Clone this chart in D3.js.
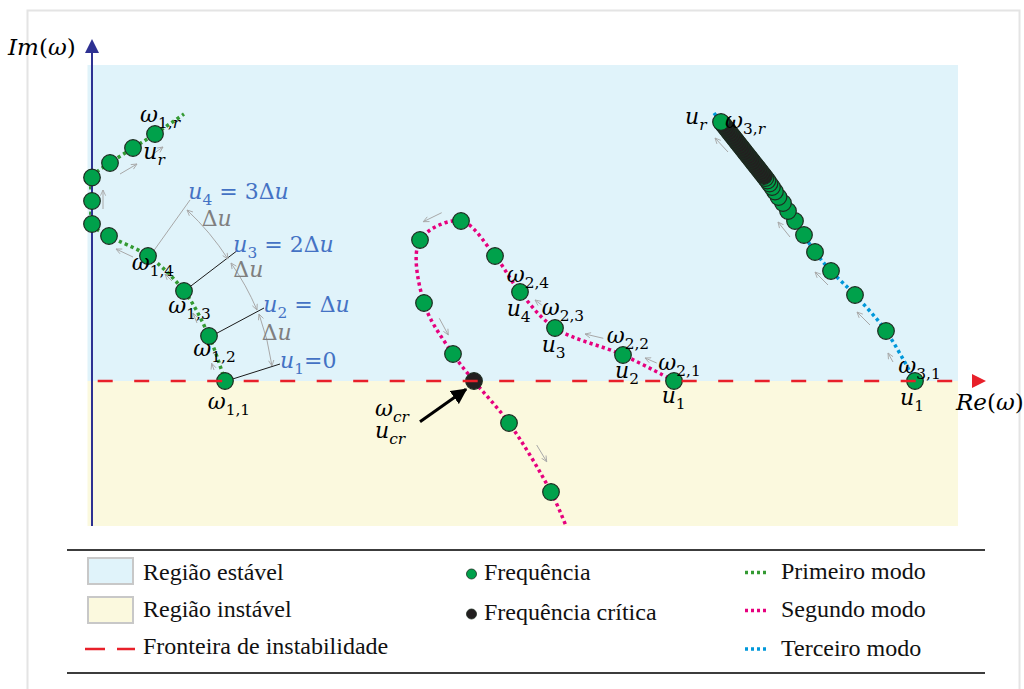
<!DOCTYPE html>
<html><head><meta charset="utf-8">
<script src="https://cdn.jsdelivr.net/npm/d3@7"></script>
<style>body{margin:0;background:#fff}svg{display:block}</style>
</head><body>
<svg id="c" width="1024" height="689"></svg>
<script>
// ---------- DATA (Re, Im in chart units) ----------
const regionRe = [-0.45, 86.6];
const stableIm = [0, 31.6];
const unstableIm = [-14.5, 0];

const mode1Re = [13.3, 11.7, 9.2, 5.6, 1.7, 0, 0, 0, 1.8, 4.1, 6.3];
const mode1Im = [0, 4.5, 9.0, 12.5, 14.5, 15.7, 18.0, 20.35, 21.8, 23.3, 24.7];
const mode1TailRe = [9.2];
const mode1TailIm = [26.7];

const mode2Re = [58.2, 53.1, 46.3, 42.8, 40.3, 36.9, 32.8, 33.2, 36.1, 38.2, 41.7, 45.9];
const mode2Im = [0, 2.6, 5.3, 8.9, 12.5, 16.0, 14.1, 7.8, 2.7, 0, -4.2, -11.1];
const mode2Critical = [9];
const mode2TailRe = [47.4];
const mode2TailIm = [-14.5];

const mode3Re = [82.3, 79.4, 76.3, 73.9, 72.3, 71.2, 70.3, 69.6, 69.1, 68.65, 68.3, 68.0, 67.75, 67.55, 67.35];
const mode3Im = [0, 5.0, 8.6, 11.0, 12.9, 14.6, 16.0, 17.0, 17.8, 18.4, 18.95, 19.4, 19.75, 20.05, 20.3];
const mode3DenseRe = [67.20, 67.04, 66.88, 66.73, 66.57, 66.41, 66.25, 66.09, 65.94, 65.78, 65.62, 65.46, 65.30, 65.15, 64.99, 64.83, 64.67, 64.51, 64.36, 64.20, 64.04, 63.88, 63.72, 63.57, 63.41, 63.25, 63.09];
const mode3DenseIm = [20.5, 20.7, 20.9, 21.1, 21.3, 21.5, 21.7, 21.9, 22.1, 22.3, 22.5, 22.7, 22.9, 23.1, 23.3, 23.5, 23.7, 23.9, 24.1, 24.3, 24.5, 24.7, 24.9, 25.1, 25.3, 25.5, 25.7];
const mode3LastRe = [62.9];
const mode3LastIm = [25.9];
const mode3TailRe = [62.2];
const mode3TailIm = [26.8];

// direction arrows [re0, im0, re1, im1]
const flowArrows = [
  [2.8,20.7,4.5,21.7],[6.1,22.7,7.1,23.4],[1.1,17.2,1.1,19.1],[4.1,12.4,2.4,13.2],
  [8.0,10.0,7.3,10.7],[10.5,5.8,10.1,6.8],[12.2,1.1,11.97,1.77],
  [34.97,16.83,33.13,15.93],[34.73,6.27,35.63,4.6],[51.13,4.27,49.3,4.7],
  [44.97,7.6,44.3,8.1],[56.47,1.8,55.3,2.3],[44.47,-6.4,45.47,-8.07],
  [63.6,22.9,62.3,24.3],[69.8,14.4,68.6,15.9],[73.6,9.6,72.3,10.9],
  [77.8,5.6,76.5,6.9],[80.1,1.9,79.6,2.8]
];
// leader lines from mode 1 points to u labels
const leaderBlack = [[13.97,0.17,18.8,1.7],[12.47,4.77,17.2,7.3],[9.8,9.43,14.47,13.0]];
const leaderGray = [[6.23,13.1,9.8,18.1]];
// Δu arc segments (radius in chart units)
const arcRadius = 26;
const arcSegs = [[9.5,17.1,13.6,12.2],[13.9,11.8,16.5,7.1],[16.7,6.7,18.0,1.5]];
const critArrow = [32.8,-4.07,37.4,-0.83];

// labels: parts [text, kind] kind: i italic, n normal, s subscript, si subscript italic
const labels = [
  {re:11.57, im:-2.8, parts:[['ω','i'],['1,1','s']]},
  {re:10.13, im:2.5, parts:[['ω','i'],['1,2','s']]},
  {re:7.63, im:6.8, parts:[['ω','i'],['1,3','s']]},
  {re:3.97, im:11.1, parts:[['ω','i'],['1,4','s']]},
  {re:4.8, im:25.95, parts:[['ω','i'],['1,','s'],['r','si']]},
  {re:5.13, im:22.2, parts:[['u','i'],['r','si']]},
  {re:41.47, im:9.9, parts:[['ω','i'],['2,4','s']]},
  {re:41.47, im:6.5, parts:[['u','i'],['4','s']]},
  {re:44.97, im:6.6, parts:[['ω','i'],['2,3','s']]},
  {re:44.97, im:2.93, parts:[['u','i'],['3','s']]},
  {re:51.47, im:3.8, parts:[['ω','i'],['2,2','s']]},
  {re:52.3, im:0.3, parts:[['u','i'],['2','s']]},
  {re:56.63, im:1.1, parts:[['ω','i'],['2,1','s']]},
  {re:56.97, im:-2.2, parts:[['u','i'],['1','s']]},
  {re:28.3, im:-3.5, parts:[['ω','i'],['cr','si']]},
  {re:28.3, im:-5.7, parts:[['u','i'],['cr','si']]},
  {re:59.3, im:25.7, parts:[['u','i'],['r','si']]},
  {re:63.3, im:25.3, parts:[['ω','i'],['3,','s'],['r','si']]},
  {re:80.63, im:0.8, parts:[['ω','i'],['3,1','s']]},
  {re:80.8, im:-2.4, parts:[['u','i'],['1','s']]},
  {re:9.63, im:18.2, color:'#4472c4', parts:[['u','i'],['4','s'],[' = 3Δ','n'],['u','i']]},
  {re:14.13, im:12.95, color:'#4472c4', parts:[['u','i'],['3','s'],[' = 2Δ','n'],['u','i']]},
  {re:17.13, im:6.95, color:'#4472c4', parts:[['u','i'],['2','s'],[' = Δ','n'],['u','i']]},
  {re:18.8, im:1.3, color:'#4472c4', parts:[['u','i'],['1','s'],['=0','n']]},
  {re:10.97, im:15.5, color:'#7f7f7f', parts:[['Δ','n'],['u','i']]},
  {re:14.13, im:10.4, color:'#7f7f7f', parts:[['Δ','n'],['u','i']]},
  {re:16.97, im:4.1, color:'#7f7f7f', parts:[['Δ','n'],['u','i']]}
];

const legendRegions = ['Região estável','Região instável'];
const legendBoundary = 'Fronteira de instabilidade';
const legendPoints = ['Frequência','Frequência crítica'];
const legendModes = ['Primeiro modo','Segundo modo','Terceiro modo'];

// ---------- STYLE ----------
const C = {
  stable:'#e0f3fa', unstable:'#fbf9de', axis:'#2e3192', red:'#e8202a',
  m1:'#349a33', m2:'#e6007e', m3:'#0098da', pt:'#00a14b', ptStroke:'#1d2b20',
  crit:'#231f20', gray:'#a8a8a8'
};
const modeColors = [C.m1, C.m2, C.m3];
const MATH = "'DejaVu Serif', serif";
const SERIF = "'Liberation Serif','Times New Roman',serif";

const svg = d3.select('#c');
const x = d3.scaleLinear().domain([0, 86.6]).range([92, 958]);
const y = d3.scaleLinear().domain([0, 31.6]).range([381, 65]);
const pxPerUnit = x(1) - x(0);

// frame
svg.append('rect').attr('x',27.5).attr('y',10.5).attr('width',992).attr('height',700)
  .attr('fill','none').attr('stroke','#e4e4e4').attr('stroke-width',2);

// defs
const defs = svg.append('defs');
defs.append('marker').attr('id','ga').attr('viewBox','0 0 8 8').attr('refX',7).attr('refY',4)
  .attr('markerWidth',7).attr('markerHeight',7).attr('markerUnits','userSpaceOnUse').attr('orient','auto-start-reverse')
  .append('path').attr('d','M0.5,1 L7,4 L0.5,7').attr('fill','none').attr('stroke',C.gray).attr('stroke-width',1);
defs.append('marker').attr('id','ba').attr('viewBox','0 0 10 10').attr('refX',9).attr('refY',5)
  .attr('markerWidth',16).attr('markerHeight',16).attr('markerUnits','userSpaceOnUse').attr('orient','auto')
  .append('path').attr('d','M0,0 L10,5 L0,10 Z').attr('fill','#000');

// regions
svg.append('rect').attr('x',x(regionRe[0])).attr('y',y(stableIm[1]))
  .attr('width',x(regionRe[1])-x(regionRe[0])).attr('height',y(stableIm[0])-y(stableIm[1])).attr('fill',C.stable);
svg.append('rect').attr('x',x(regionRe[0])).attr('y',y(unstableIm[1]))
  .attr('width',x(regionRe[1])-x(regionRe[0])).attr('height',y(unstableIm[0])-y(unstableIm[1])).attr('fill',C.unstable);

// mode paths
const zip = (a,b) => a.map((v,i)=>[v,b[i]]);
const line = d3.line().x(d=>x(d[0])).y(d=>y(d[1])).curve(d3.curveCatmullRom.alpha(0.5));
const paths = [
  zip(mode1Re.concat(mode1TailRe), mode1Im.concat(mode1TailIm)),
  zip(mode2Re.concat(mode2TailRe), mode2Im.concat(mode2TailIm)),
  zip(mode3Re.concat(mode3DenseRe, mode3LastRe, mode3TailRe), mode3Im.concat(mode3DenseIm, mode3LastIm, mode3TailIm))
];
paths.forEach((p,i)=>{
  svg.append('path').attr('d',line(p)).attr('fill','none').attr('stroke',modeColors[i])
    .attr('stroke-width',3.5).attr('stroke-dasharray','3.2,3.2');
});

// flow arrows
svg.append('g').selectAll('line').data(flowArrows).join('line')
  .attr('x1',d=>x(d[0])).attr('y1',d=>y(d[1])).attr('x2',d=>x(d[2])).attr('y2',d=>y(d[3]))
  .attr('stroke',C.gray).attr('stroke-width',1).attr('marker-end','url(#ga)');

// leaders
svg.append('g').selectAll('line').data(leaderBlack).join('line')
  .attr('x1',d=>x(d[0])).attr('y1',d=>y(d[1])).attr('x2',d=>x(d[2])).attr('y2',d=>y(d[3]))
  .attr('stroke','#1a1a1a').attr('stroke-width',1);
svg.append('g').selectAll('line').data(leaderGray).join('line')
  .attr('x1',d=>x(d[0])).attr('y1',d=>y(d[1])).attr('x2',d=>x(d[2])).attr('y2',d=>y(d[3]))
  .attr('stroke',C.gray).attr('stroke-width',1);
// arcs
const rPx = arcRadius*pxPerUnit;
svg.append('g').selectAll('path').data(arcSegs).join('path')
  .attr('d',d=>`M${x(d[0])},${y(d[1])} A${rPx},${rPx} 0 0 1 ${x(d[2])},${y(d[3])}`)
  .attr('fill','none').attr('stroke',C.gray).attr('stroke-width',1)
  .attr('marker-start','url(#ga)').attr('marker-end','url(#ga)');

// y axis
svg.append('line').attr('x1',x(0)).attr('x2',x(0)).attr('y1',y(unstableIm[0])).attr('y2',50)
  .attr('stroke',C.axis).attr('stroke-width',2);
svg.append('path').attr('d',`M${x(0)-7},53 L${x(0)+7},53 L${x(0)},39 Z`).attr('fill',C.axis);

// points
const pts = svg.append('g');
function dots(re, im, fill){
  pts.selectAll(null).data(zip(re,im)).join('circle')
    .attr('cx',d=>x(d[0])).attr('cy',d=>y(d[1])).attr('r',8.3)
    .attr('fill',fill).attr('stroke',C.ptStroke).attr('stroke-width',1.2);
}
dots(mode1Re, mode1Im, C.pt);
dots(mode2Re.filter((v,i)=>!mode2Critical.includes(i)), mode2Im.filter((v,i)=>!mode2Critical.includes(i)), C.pt);
dots(mode2Critical.map(i=>mode2Re[i]), mode2Critical.map(i=>mode2Im[i]), C.crit);
dots(mode3Re, mode3Im, C.pt);
dots(mode3DenseRe, mode3DenseIm, C.crit);
dots(mode3LastRe, mode3LastIm, C.pt);

// x axis (instability boundary)
svg.append('line').attr('x1',97.7).attr('x2',x(regionRe[1])).attr('y1',y(0)).attr('y2',y(0))
  .attr('stroke',C.red).attr('stroke-width',2.5).attr('stroke-dasharray','15,21.5');
svg.append('path').attr('d',`M972,${y(0)-7} L986,${y(0)} L972,${y(0)+7} Z`).attr('fill',C.red);

// critical arrow
svg.append('line').attr('x1',x(critArrow[0])).attr('y1',y(critArrow[1])).attr('x2',x(critArrow[2])).attr('y2',y(critArrow[3]))
  .attr('stroke','#000').attr('stroke-width',3).attr('marker-end','url(#ba)');

// labels
function mathLabel(px, py, parts, color, size){
  size = size || 22;
  const dsub = Math.round(size*0.28);
  const t = svg.append('text').attr('x',px).attr('y',py).attr('fill',color||'#000')
    .style('font-family',MATH).style('font-size',size+'px');
  let inSub = false;
  parts.forEach(p=>{
    const ts = t.append('tspan').text(p[0]);
    const sub = p[1]==='s' || p[1]==='si';
    if (p[1]==='i' || p[1]==='si') ts.style('font-style','italic');
    if (sub) { ts.style('font-size',(size*0.7)+'px'); if(!inSub){ ts.attr('dy',dsub); inSub=true; } }
    else if (inSub) { ts.attr('dy',-dsub); inSub=false; }
  });
}
labels.forEach(l=>mathLabel(x(l.re), y(l.im), l.parts, l.color));

// axis labels
mathLabel(8, 55, [['Im','i'],['(','n'],['ω','i'],[')','n']], '#000', 23);
mathLabel(956, 410, [['Re','i'],['(','n'],['ω','i'],[')','n']], '#000', 23);

// legend
const L = svg.append('g');
[550, 673].forEach(yy=>L.append('line').attr('x1',67).attr('x2',985).attr('y1',yy).attr('y2',yy)
  .attr('stroke','#3c3c3c').attr('stroke-width',2));
const lt = (tx,ty,s)=>L.append('text').attr('x',tx).attr('y',ty).text(s)
  .style('font-family',SERIF).style('font-size','24px').attr('fill','#111');
[C.stable, C.unstable].forEach((c,i)=>{
  L.append('rect').attr('x',88).attr('y',558+i*39).attr('width',45).attr('height',26)
    .attr('fill',c).attr('stroke','#c8c8c8').attr('stroke-width',2);
  lt(143, 580+i*37, legendRegions[i]);
});
L.append('line').attr('x1',85).attr('x2',135).attr('y1',649).attr('y2',649)
  .attr('stroke',C.red).attr('stroke-width',2.5).attr('stroke-dasharray','20,12');
lt(143, 654, legendBoundary);
[C.pt, C.crit].forEach((c,i)=>{
  L.append('circle').attr('cx',471.5).attr('cy',574+i*40).attr('r',5).attr('fill',c)
    .attr('stroke',C.ptStroke).attr('stroke-width',0.8);
  lt(484, 580+i*40, legendPoints[i]);
});
modeColors.forEach((c,i)=>{
  const yy = [572.5,610.5,649][i];
  L.append('line').attr('x1',745).attr('x2',769).attr('y1',yy).attr('y2',yy)
    .attr('stroke',c).attr('stroke-width',3.5).attr('stroke-dasharray','3,3');
  lt(781, [579,617,656][i], legendModes[i]);
});
</script>
</body></html>
